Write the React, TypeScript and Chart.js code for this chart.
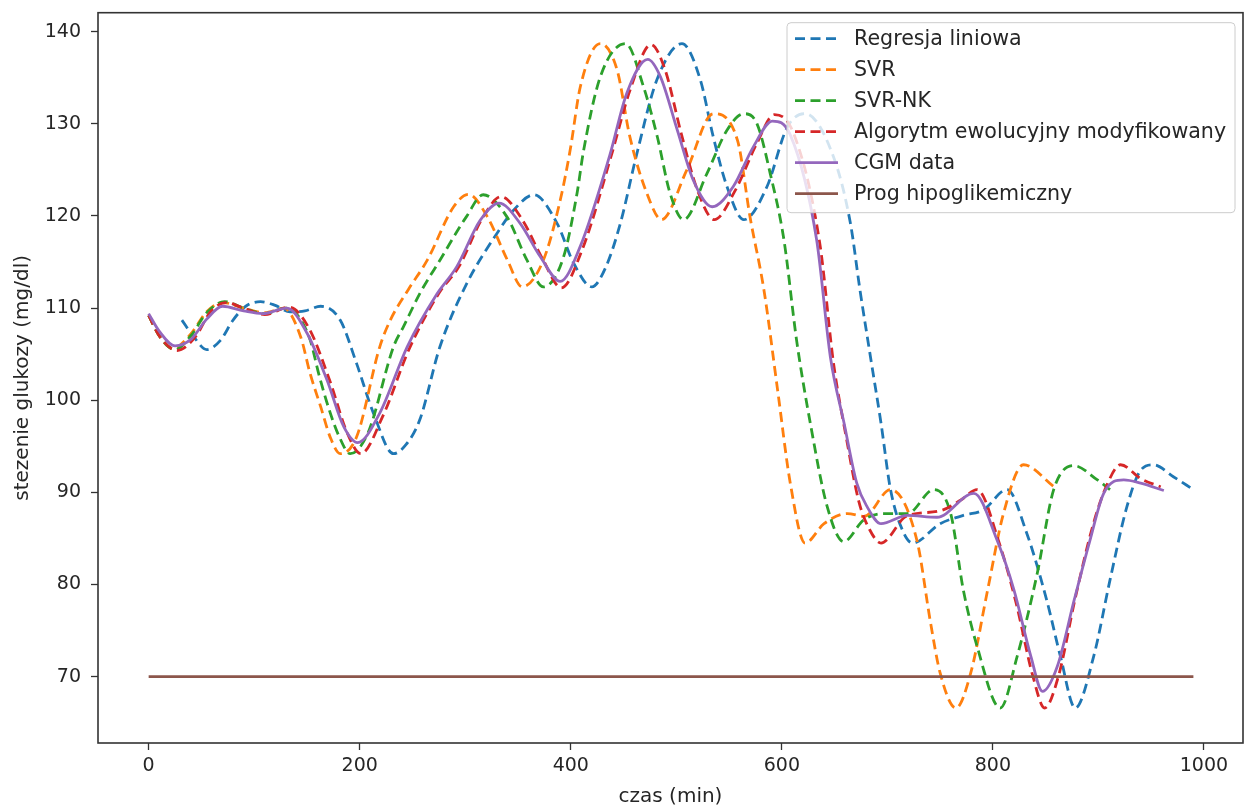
import React, { useEffect, useRef } from 'react';
import { Chart, registerables } from 'chart.js';

Chart.register(...registerables);

// ---- data ----
const xTicks = [0, 200, 400, 600, 800, 1000];
const yTicks = [70, 80, 90, 100, 110, 120, 130, 140];

const lrTime = [31.5, 42, 55, 68, 80, 92, 106, 120, 134, 148, 163, 181.5, 197, 213, 232, 244, 257, 276, 301.6, 330, 346, 365, 387, 402.6, 420, 433, 447, 462.7, 481.7, 505.4, 522.7, 535, 548, 564, 586, 605, 622, 649, 665, 674, 684, 694, 703, 715.5, 724, 750, 772, 791, 813.5, 832, 851, 864, 878, 895.5, 911, 927, 940, 952, 971, 990];
const lrValues = [108.7, 107.0, 105.5, 106.5, 108.7, 110.2, 110.7, 110.3, 109.6, 109.7, 110.2, 108.7, 104.0, 98.6, 94.2, 95.2, 97.9, 105.8, 112.7, 118.1, 120.65, 122.3, 119.2, 114.9, 112.3, 114.4, 119.2, 126.8, 134.8, 138.7, 134.8, 128.6, 123.2, 119.6, 123.2, 129.6, 131.1, 126.4, 119.2, 112.0, 104.7, 97.5, 90.3, 85.6, 84.5, 86.6, 87.5, 88.1, 90.3, 85.6, 78.3, 72.2, 66.6, 72.2, 80.5, 88.45, 92.4, 93.0, 91.7, 90.3];

const svrTime = [0, 10, 23, 40, 55, 70, 90, 110, 128, 144, 153, 163, 172, 181.5, 197, 219, 229, 246, 264, 289, 303, 321, 340, 354, 374, 390, 399.5, 409, 428, 444, 456, 472, 486, 510, 535, 558, 570, 583, 596, 608, 622, 640, 662, 678, 703, 728, 741, 750, 765, 779, 795, 810, 829, 858];
const svrValues = [109.2, 107.0, 105.6, 107.2, 109.6, 110.6, 110.0, 109.5, 110.0, 106.9, 102.9, 99.3, 96.0, 94.2, 96.0, 105.8, 108.7, 112.0, 115.2, 121.0, 122.35, 119.9, 115.2, 112.3, 115.2, 121.7, 127.2, 134.0, 138.7, 135.8, 128.6, 122.5, 119.6, 125.0, 131.1, 128.2, 119.8, 112.0, 101.1, 91.0, 84.5, 86.6, 87.7, 87.4, 90.3, 84.8, 75.8, 70.4, 66.6, 70.4, 79.4, 87.7, 93.0, 90.6];

const nkTime = [0, 10, 25, 40, 55, 72, 90, 110, 130, 152, 162, 171, 180, 191, 208, 232, 241.5, 258, 276, 301, 317, 339.5, 358.5, 374, 393, 406, 412, 428, 452, 469, 482, 494, 507, 529, 548, 564, 576.5, 589, 602, 614, 627, 643, 658.6, 677.5, 696.5, 719, 744, 760, 772, 785, 807, 823, 842, 857.6, 876.6, 899, 911];
const nkValues = [109.2, 107.0, 105.5, 107.0, 109.5, 110.7, 110.0, 109.4, 110.0, 106.9, 102.5, 99.0, 96.2, 94.2, 96.5, 105.8, 108.0, 111.8, 115.2, 119.9, 122.3, 119.9, 115.2, 112.3, 115.5, 122.5, 127.0, 135.1, 138.7, 134.0, 128.6, 122.5, 119.6, 124.6, 129.3, 131.1, 130.0, 124.6, 117.4, 106.5, 97.5, 88.45, 84.65, 87.0, 87.7, 87.7, 90.3, 87.7, 79.4, 73.3, 66.6, 72.2, 81.2, 90.3, 92.9, 91.35, 90.3];

const evoTime = [0, 10, 27, 45, 58, 73, 90, 110, 133, 152, 172, 188, 201, 222, 247, 275, 294, 316, 334, 354, 373, 391, 411, 439, 456, 476, 489, 505, 520, 536, 556, 576, 593, 611, 636, 649, 661, 673, 683, 694, 718, 750, 770, 785, 806, 822, 838, 849, 862, 878, 895, 908, 921, 940, 959];
const evoValues = [109.2, 107.0, 105.4, 107.0, 109.5, 110.6, 110.0, 109.3, 110.1, 107.8, 102.0, 96.5, 94.2, 98.3, 105.6, 111.6, 114.5, 119.7, 122.1, 119.6, 115.4, 112.2, 116.4, 126.8, 133.6, 138.6, 136.0, 128.8, 122.8, 119.6, 122.8, 127.8, 131.0, 129.0, 117.0, 104.0, 96.0, 89.0, 86.0, 84.5, 87.4, 88.0, 89.2, 90.3, 84.5, 78.0, 70.0, 66.6, 70.0, 78.5, 86.5, 90.8, 93.0, 91.5, 90.6];

const cgmTime = [0, 10, 25, 40, 55, 70, 90, 108, 131, 150, 169, 185, 198, 219, 245, 273, 292, 314, 332, 352, 371, 390, 409, 437, 453, 473, 485, 501, 516, 534, 554, 573, 591, 608, 633, 646, 659, 671, 681, 694, 719, 747, 782, 804, 820, 836, 847, 861, 877, 892, 905, 924, 940, 962];
const cgmValues = [109.4, 107.5, 105.9, 106.6, 108.8, 110.2, 109.7, 109.4, 110.0, 107.3, 102.2, 97.1, 95.4, 98.6, 105.8, 111.5, 114.5, 119.5, 121.4, 119.2, 115.6, 112.9, 116.7, 126.6, 133.3, 137.0, 135.1, 129.3, 123.9, 121.0, 123.2, 127.5, 130.3, 128.8, 117.4, 104.7, 97.5, 91.0, 88.4, 86.6, 87.5, 87.3, 89.9, 84.8, 79.4, 72.2, 68.4, 71.1, 78.3, 84.8, 89.9, 91.35, 91.0, 90.2];

const thresholdTime = [0, 990];
const thresholdValues = [70, 70];

const seriesLabels = ['Regresja liniowa', 'SVR', 'SVR-NK', 'Algorytm ewolucyjny modyfikowany', 'CGM data', 'Prog hipoglikemiczny'];

// ---- styles ----
const FONT = "'DejaVu Sans', sans-serif";
const TEXT = '#262626';
const DASH = [10, 5.5];
const LW = 2.8;

const framePlugin = {
  id: 'frame',
  afterDraw(chart: any) {
    const { ctx, chartArea } = chart;
    ctx.save();
    ctx.strokeStyle = '#333';
    ctx.lineWidth = 1.6;
    ctx.strokeRect(chartArea.left, chartArea.top, chartArea.right - chartArea.left, chartArea.bottom - chartArea.top);
    ctx.restore();
  },
};

const legendPlugin = {
  id: 'innerLegend',
  afterDraw(chart: any) {
    const { ctx, chartArea } = chart;
    const w = 448;
    const h = 190;
    const x0 = chartArea.right - 8 - w;
    const y0 = chartArea.top + 10;
    ctx.save();
    ctx.beginPath();
    const r = 4;
    ctx.moveTo(x0 + r, y0);
    ctx.lineTo(x0 + w - r, y0);
    ctx.quadraticCurveTo(x0 + w, y0, x0 + w, y0 + r);
    ctx.lineTo(x0 + w, y0 + h - r);
    ctx.quadraticCurveTo(x0 + w, y0 + h, x0 + w - r, y0 + h);
    ctx.lineTo(x0 + r, y0 + h);
    ctx.quadraticCurveTo(x0, y0 + h, x0, y0 + h - r);
    ctx.lineTo(x0, y0 + r);
    ctx.quadraticCurveTo(x0, y0, x0 + r, y0);
    ctx.closePath();
    ctx.fillStyle = 'rgba(255,255,255,0.8)';
    ctx.fill();
    ctx.strokeStyle = '#cccccc';
    ctx.lineWidth = 1;
    ctx.stroke();
    chart.data.datasets.forEach((ds: any, i: number) => {
      const y = y0 + 16 + i * 31;
      ctx.strokeStyle = ds.borderColor;
      ctx.lineWidth = LW;
      ctx.setLineDash(ds.borderDash || []);
      ctx.beginPath();
      ctx.moveTo(x0 + 8, y);
      ctx.lineTo(x0 + 51, y);
      ctx.stroke();
      ctx.setLineDash([]);
      ctx.fillStyle = TEXT;
      ctx.font = `20.6px ${FONT}`;
      ctx.textBaseline = 'middle';
      ctx.textAlign = 'left';
      ctx.fillText(ds.label, x0 + 67, y + 1);
    });
    ctx.restore();
  },
};

export default function App() {
  const ref = useRef<HTMLCanvasElement>(null);

  useEffect(() => {
    document.body.style.margin = '0';
    const canvas = ref.current;
    if (!canvas) return;
    const toPts = (t: number[], v: number[]) => t.map((x, i) => ({ x, y: v[i] }));
    const series = [
      { t: lrTime, v: lrValues, color: '#1f77b4', dash: DASH },
      { t: svrTime, v: svrValues, color: '#ff7f0e', dash: DASH },
      { t: nkTime, v: nkValues, color: '#2ca02c', dash: DASH },
      { t: evoTime, v: evoValues, color: '#d62728', dash: DASH },
      { t: cgmTime, v: cgmValues, color: '#9467bd', dash: [] as number[] },
      { t: thresholdTime, v: thresholdValues, color: '#8c564b', dash: [] as number[] },
    ];
    const chart = new Chart(canvas, {
      type: 'line',
      data: {
        datasets: series.map((s, i) => ({
          label: seriesLabels[i],
          data: toPts(s.t, s.v),
          borderColor: s.color,
          backgroundColor: s.color,
          borderWidth: LW,
          borderDash: s.dash,
          pointRadius: 0,
          pointHoverRadius: 0,
          fill: false,
          cubicInterpolationMode: 'monotone',
          order: series.length - i,
        })) as any,
      },
      options: {
        responsive: false,
        animation: false,
        events: [],
        layout: { padding: { top: 12.7, right: 2, left: 0, bottom: 0 } },
        plugins: { legend: { display: false }, tooltip: { enabled: false } },
        scales: {
          x: {
            type: 'linear',
            min: -48,
            max: 1037,
            afterFit: (s: any) => { s.height = 65; s.paddingLeft = 0; s.paddingRight = 0; },
            afterBuildTicks: (s: any) => { s.ticks = xTicks.map((v) => ({ value: v })); },
            ticks: {
              autoSkip: false,
              maxRotation: 0,
              padding: 5,
              color: TEXT,
              font: { family: FONT, size: 19 },
              callback: (v: any) => String(v),
            },
            grid: { drawOnChartArea: false, drawTicks: true, tickLength: 7, tickColor: '#333', tickWidth: 1.3 },
            border: { display: false },
            title: { display: true, text: 'czas (min)', color: TEXT, font: { family: FONT, size: 20, lineHeight: 1.0 }, padding: { top: 0, bottom: 1 } },
          },
          y: {
            type: 'linear',
            min: 62.8,
            max: 142.06,
            afterFit: (s: any) => { s.width = 98; s.paddingTop = 0; s.paddingBottom = 0; },
            afterBuildTicks: (s: any) => { s.ticks = yTicks.map((v) => ({ value: v })); },
            ticks: {
              autoSkip: false,
              padding: 10,
              color: TEXT,
              font: { family: FONT, size: 19 },
              callback: (v: any) => String(v),
            },
            grid: { drawOnChartArea: false, drawTicks: true, tickLength: 7, tickColor: '#333', tickWidth: 1.3 },
            border: { display: false },
            title: { display: true, text: 'stezenie glukozy (mg/dl)', color: TEXT, font: { family: FONT, size: 20 }, padding: { top: 11, bottom: 0 } },
          },
        },
      } as any,
      plugins: [framePlugin, legendPlugin],
    });
    return () => chart.destroy();
  }, []);

  return (
    <div style={{ position: 'absolute', left: 0, top: 0, width: 1245, height: 808, background: '#fff' }}>
      <canvas ref={ref} width={1245} height={808} style={{ display: 'block', width: 1245, height: 808 }} />
    </div>
  );
}
